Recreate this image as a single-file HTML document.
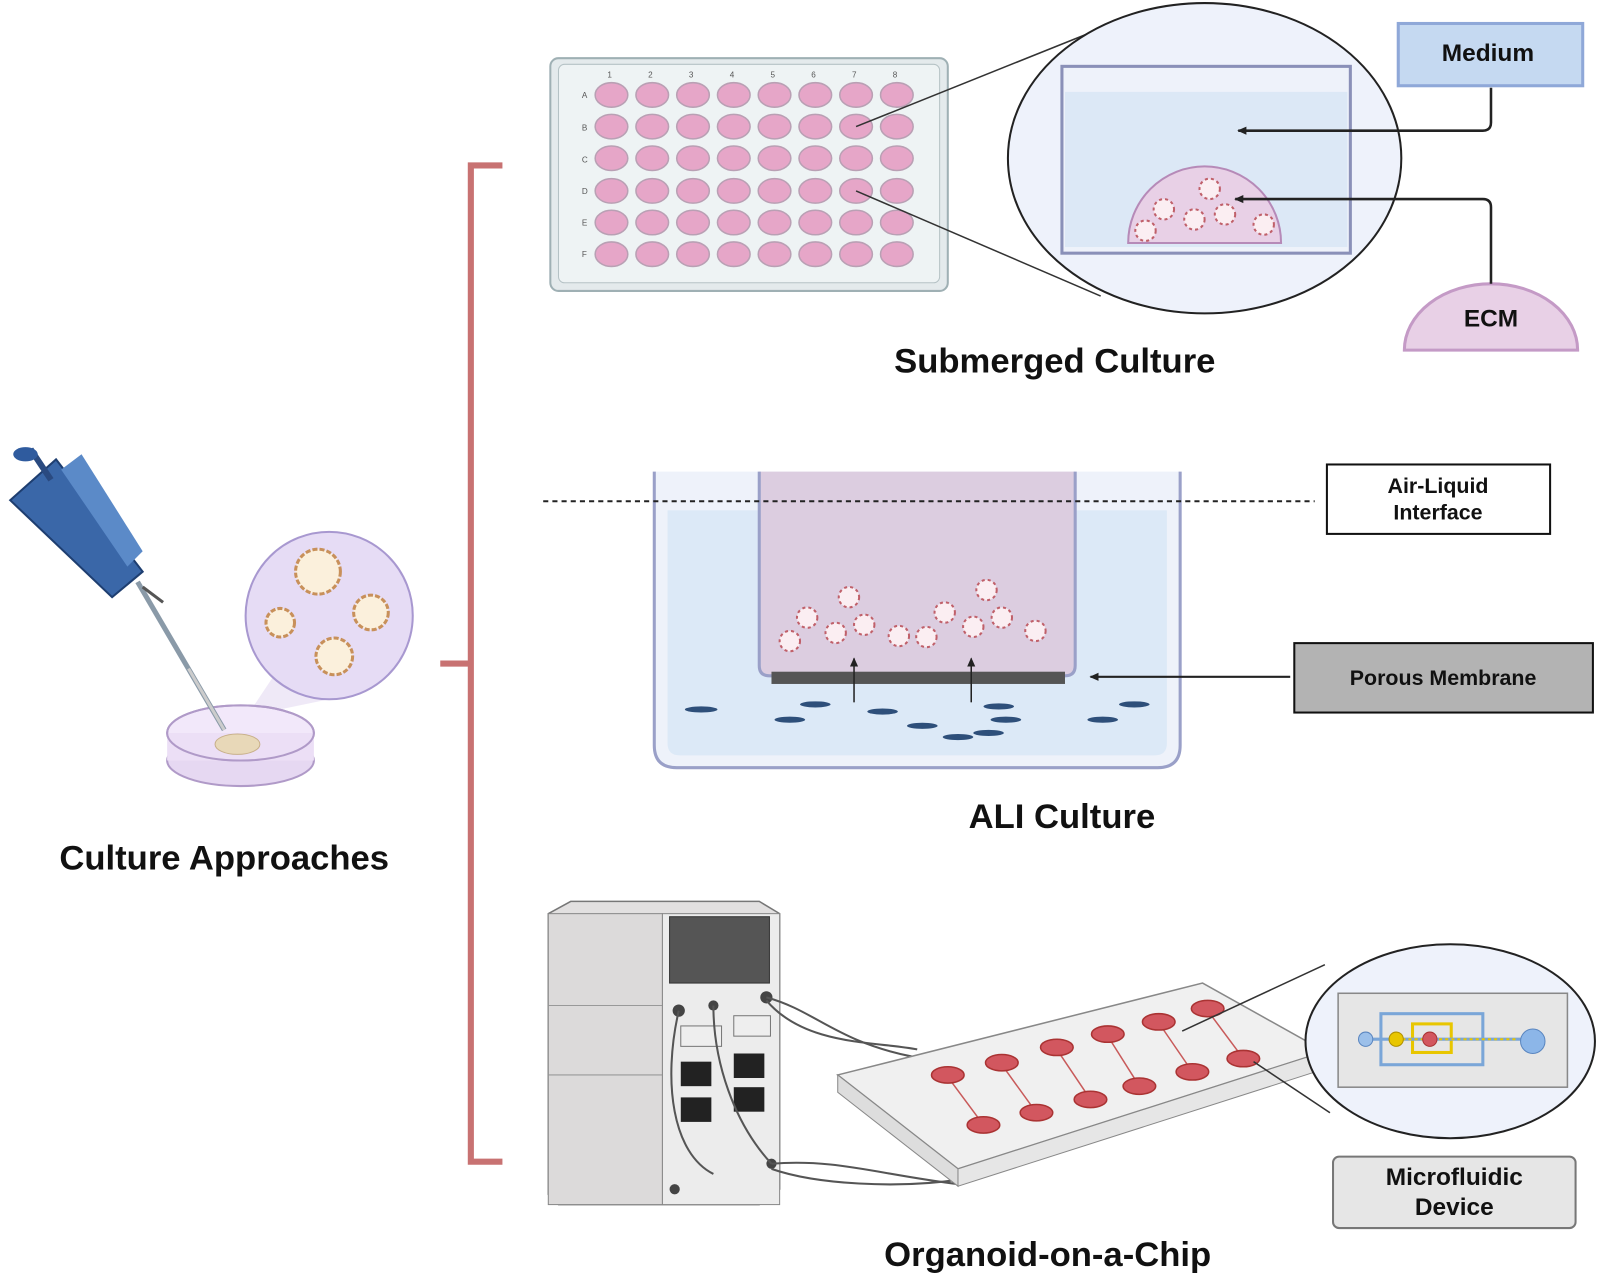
<!DOCTYPE html>
<html><head><meta charset="utf-8"><style>
html,body{margin:0;padding:0;background:#fff;}
svg{display:block;}
text{font-family:"Liberation Sans",Arial,sans-serif;}
</style></head><body>
<svg width="1598" height="1274" viewBox="0 0 1568 1248" preserveAspectRatio="none" xmlns="http://www.w3.org/2000/svg">
<defs>
<marker id="ah" markerWidth="10" markerHeight="10" refX="8" refY="5" orient="auto" markerUnits="userSpaceOnUse"><path d="M0,1 L9,5 L0,9 z" fill="#222"/></marker>
<g id="org"><circle r="10" fill="#fbeef2" stroke="#c0606a" stroke-width="2" stroke-dasharray="3 3"/></g>
</defs>
<rect width="1568" height="1248" fill="#fff"/>

<!-- bracket -->
<path d="M493,162 H462 V1138 H493 M462,650 H432" fill="none" stroke="#c87272" stroke-width="6"/>

<!-- well plate -->
<rect x="540" y="57" width="390" height="228" rx="8" fill="#e4eaec" stroke="#9fb0b4" stroke-width="2"/>
<rect x="548" y="63" width="374" height="214" rx="6" fill="#eef3f4" stroke="#b5c2c5" stroke-width="1"/>
<g fill="#555" font-size="8">
<text x="596" y="76">1</text><text x="636" y="76">2</text><text x="676" y="76">3</text><text x="716" y="76">4</text><text x="756" y="76">5</text><text x="796" y="76">6</text><text x="836" y="76">7</text><text x="876" y="76">8</text>
<text x="571" y="96">A</text><text x="571" y="128">B</text><text x="571" y="159">C</text><text x="571" y="190">D</text><text x="571" y="221">E</text><text x="571" y="252">F</text>
</g>
<g fill="#e6a6c8" stroke="#b9a0b4" stroke-width="1.5">
<g id="row"><ellipse cx="600" cy="93" rx="16" ry="12"/><ellipse cx="640" cy="93" rx="16" ry="12"/><ellipse cx="680" cy="93" rx="16" ry="12"/><ellipse cx="720" cy="93" rx="16" ry="12"/><ellipse cx="760" cy="93" rx="16" ry="12"/><ellipse cx="800" cy="93" rx="16" ry="12"/><ellipse cx="840" cy="93" rx="16" ry="12"/><ellipse cx="880" cy="93" rx="16" ry="12"/></g>
<use href="#row" y="31"/><use href="#row" y="62"/><use href="#row" y="94"/><use href="#row" y="125"/><use href="#row" y="156"/>
</g>
<line x1="840" y1="124" x2="1075" y2="30" stroke="#333" stroke-width="1.5"/>
<line x1="840" y1="187" x2="1080" y2="290" stroke="#333" stroke-width="1.5"/>
<ellipse cx="1182" cy="155" rx="193" ry="152" fill="#eef2fb" stroke="#222" stroke-width="2"/>
<rect x="1042" y="65" width="283" height="183" fill="#eef2fa" stroke="#8a90b8" stroke-width="3"/>
<rect x="1045" y="90" width="277" height="152" fill="#dce8f6"/>
<path d="M1107,238 A75,75 0 0 1 1257,238 Z" fill="#e8d0e6" stroke="#b68ab8" stroke-width="2"/>
<use href="#org" x="1142" y="205"/><use href="#org" x="1172" y="215"/><use href="#org" x="1202" y="210"/><use href="#org" x="1187" y="185"/><use href="#org" x="1240" y="220"/><use href="#org" x="1124" y="226"/>
<rect x="1372" y="23" width="181" height="61" fill="#c5d9f1" stroke="#8fa8d8" stroke-width="3"/>
<text x="1460" y="60" font-size="24" font-weight="bold" text-anchor="middle" fill="#111">Medium</text>
<path d="M1463,86 V120 Q1463,128 1455,128 H1215" fill="none" stroke="#222" stroke-width="2.5" marker-end="url(#ah)"/>
<path d="M1378,343 A85,65 0 0 1 1548,343 Z" fill="#e8d0e6" stroke="#c49ac6" stroke-width="3"/>
<text x="1463" y="320" font-size="24" font-weight="bold" text-anchor="middle" fill="#111">ECM</text>
<path d="M1463,278 V203 Q1463,195 1455,195 H1212" fill="none" stroke="#222" stroke-width="2.5" marker-end="url(#ah)"/>
<text x="1035" y="365" font-size="34" font-weight="bold" text-anchor="middle" fill="#111">Submerged Culture</text>

<!-- ALI -->
<path d="M642,462 V730 Q642,752 664,752 H1136 Q1158,752 1158,730 V462" fill="#eef2fa" stroke="#9aa0c8" stroke-width="3"/>
<path d="M655,500 H1145 V728 Q1145,740 1133,740 H667 Q655,740 655,728 Z" fill="#dce9f7"/>
<path d="M745,462 V652 Q745,662 755,662 H1045 Q1055,662 1055,652 V462" fill="#dccde0" stroke="#9aa0c8" stroke-width="3"/>
<rect x="757" y="658" width="288" height="12" fill="#555"/>
<line x1="533" y1="491" x2="1290" y2="491" stroke="#222" stroke-width="2" stroke-dasharray="5 4"/>
<g fill="#2e4f7a">
<ellipse cx="688" cy="695" rx="16" ry="3"/><ellipse cx="800" cy="690" rx="15" ry="3"/><ellipse cx="775" cy="705" rx="15" ry="3"/><ellipse cx="866" cy="697" rx="15" ry="3"/><ellipse cx="905" cy="711" rx="15" ry="3"/><ellipse cx="940" cy="722" rx="15" ry="3"/><ellipse cx="980" cy="692" rx="15" ry="3"/><ellipse cx="987" cy="705" rx="15" ry="3"/><ellipse cx="970" cy="718" rx="15" ry="3"/><ellipse cx="1082" cy="705" rx="15" ry="3"/><ellipse cx="1113" cy="690" rx="15" ry="3"/>
</g>
<use href="#org" x="792" y="605"/><use href="#org" x="820" y="620"/><use href="#org" x="848" y="612"/><use href="#org" x="833" y="585"/><use href="#org" x="882" y="623"/><use href="#org" x="927" y="600"/><use href="#org" x="955" y="614"/><use href="#org" x="968" y="578"/><use href="#org" x="983" y="605"/><use href="#org" x="1016" y="618"/><use href="#org" x="775" y="628"/><use href="#org" x="909" y="624"/>
<line x1="838" y1="688" x2="838" y2="645" stroke="#222" stroke-width="1.5" marker-end="url(#ah)"/>
<line x1="953" y1="688" x2="953" y2="645" stroke="#222" stroke-width="1.5" marker-end="url(#ah)"/>
<rect x="1302" y="455" width="219" height="68" fill="#fff" stroke="#111" stroke-width="2"/>
<text x="1411" y="483" font-size="21" font-weight="bold" text-anchor="middle" fill="#111">Air-Liquid</text>
<text x="1411" y="509" font-size="21" font-weight="bold" text-anchor="middle" fill="#111">Interface</text>
<rect x="1270" y="630" width="293" height="68" fill="#b3b3b3" stroke="#111" stroke-width="2"/>
<text x="1416" y="671" font-size="21" font-weight="bold" text-anchor="middle" fill="#111">Porous Membrane</text>
<line x1="1266" y1="663" x2="1070" y2="663" stroke="#222" stroke-width="2" marker-end="url(#ah)"/>
<text x="1042" y="811" font-size="34" font-weight="bold" text-anchor="middle" fill="#111">ALI Culture</text>

<!-- chip machine -->
<path d="M538,895 L560,883 H745 L765,895 V1165 L745,1180 H548 L538,1170 Z" fill="#e2e0e0" stroke="#777" stroke-width="1.5"/>
<rect x="538" y="895" width="112" height="285" fill="#dcdada" stroke="#888"/>
<line x1="538" y1="985" x2="650" y2="985" stroke="#999"/><line x1="538" y1="1053" x2="650" y2="1053" stroke="#999"/>
<rect x="650" y="895" width="115" height="285" fill="#ececec" stroke="#888"/>
<rect x="657" y="898" width="98" height="65" fill="#555" stroke="#333"/>
<rect x="668" y="1005" width="40" height="20" fill="#eee" stroke="#777"/><rect x="720" y="995" width="36" height="20" fill="#eee" stroke="#777"/>
<rect x="668" y="1040" width="30" height="24" fill="#222"/><rect x="720" y="1032" width="30" height="24" fill="#222"/>
<rect x="668" y="1075" width="30" height="24" fill="#222"/><rect x="720" y="1065" width="30" height="24" fill="#222"/>
<circle cx="666" cy="990" r="6" fill="#444"/><circle cx="752" cy="977" r="6" fill="#444"/><circle cx="700" cy="985" r="5" fill="#444"/>
<circle cx="662" cy="1165" r="5" fill="#444"/><circle cx="757" cy="1140" r="5" fill="#444"/>
<g fill="none" stroke="#555" stroke-width="2">
<path d="M752,977 C800,990 820,1020 895,1035"/><path d="M752,980 C790,1025 860,1020 900,1028"/>
<path d="M757,1140 C820,1135 860,1150 940,1160"/><path d="M757,1145 C800,1160 880,1165 945,1155"/>
<path d="M666,990 C650,1060 660,1130 700,1150"/><path d="M700,985 C700,1040 720,1100 757,1140"/>
</g>
<!-- chip -->
<polygon points="822,1053 1180,963 1300,1030 940,1145" fill="#f0f0f0" stroke="#888" stroke-width="1.5"/>
<polygon points="822,1053 940,1145 940,1162 822,1070" fill="#ddd" stroke="#888"/>
<polygon points="940,1145 1300,1030 1300,1047 940,1162" fill="#e6e6e6" stroke="#888"/>
<g stroke="#c85a5a" stroke-width="1.5" fill="none">
<path d="M930,1055 L965,1102"/><path d="M983,1043 L1017,1090"/><path d="M1037,1028 L1070,1077"/><path d="M1087,1015 L1118,1064"/><path d="M1137,1002 L1170,1050"/><path d="M1185,990 L1220,1037"/>
</g>
<g fill="#d2575f" stroke="#a33" stroke-width="1.5">
<ellipse cx="930" cy="1053" rx="16" ry="8"/><ellipse cx="983" cy="1041" rx="16" ry="8"/><ellipse cx="1037" cy="1026" rx="16" ry="8"/><ellipse cx="1087" cy="1013" rx="16" ry="8"/><ellipse cx="1137" cy="1001" rx="16" ry="8"/><ellipse cx="1185" cy="988" rx="16" ry="8"/>
<ellipse cx="965" cy="1102" rx="16" ry="8"/><ellipse cx="1017" cy="1090" rx="16" ry="8"/><ellipse cx="1070" cy="1077" rx="16" ry="8"/><ellipse cx="1118" cy="1064" rx="16" ry="8"/><ellipse cx="1170" cy="1050" rx="16" ry="8"/><ellipse cx="1220" cy="1037" rx="16" ry="8"/>
</g>
<line x1="1160" y1="1010" x2="1300" y2="945" stroke="#333" stroke-width="1.5"/>
<line x1="1230" y1="1040" x2="1305" y2="1090" stroke="#333" stroke-width="1.5"/>
<ellipse cx="1423" cy="1020" rx="142" ry="95" fill="#eef2fb" stroke="#222" stroke-width="2"/>
<rect x="1313" y="973" width="225" height="92" fill="#e6e6e6" stroke="#888" stroke-width="1.5"/>
<rect x="1355" y="993" width="100" height="50" fill="none" stroke="#7aa6d8" stroke-width="3"/>
<rect x="1386" y="1003" width="38" height="28" fill="none" stroke="#e8c600" stroke-width="3"/>
<line x1="1340" y1="1018" x2="1505" y2="1018" stroke="#7aa6d8" stroke-width="3"/>
<line x1="1370" y1="1018" x2="1490" y2="1018" stroke="#e8c600" stroke-width="2" stroke-dasharray="3 3"/>
<circle cx="1340" cy="1018" r="7" fill="#9cc0ea" stroke="#5a86c0"/><circle cx="1370" cy="1018" r="7" fill="#e8c600" stroke="#b09000"/>
<circle cx="1403" cy="1018" r="7" fill="#d2575f" stroke="#a33"/><circle cx="1504" cy="1020" r="12" fill="#8cb6e8" stroke="#5a86c0"/>
<rect x="1308" y="1133" width="238" height="70" rx="6" fill="#e6e6e6" stroke="#777" stroke-width="2"/>
<text x="1427" y="1161" font-size="24" font-weight="bold" text-anchor="middle" fill="#111">Microfluidic</text>
<text x="1427" y="1190" font-size="24" font-weight="bold" text-anchor="middle" fill="#111">Device</text>
<text x="1028" y="1240" font-size="34" font-weight="bold" text-anchor="middle" fill="#111">Organoid-on-a-Chip</text>

<!-- left: pipette, dish -->
<polygon points="230,720 250,700 323,685 310,600" fill="#ebe4f5" opacity="0.8"/>
<ellipse cx="236" cy="745" rx="72" ry="25" fill="#e6d8f2" stroke="#b09ac8" stroke-width="2"/>
<ellipse cx="236" cy="718" rx="72" ry="27" fill="#f2e8fa" stroke="#b09ac8" stroke-width="2"/>
<rect x="164" y="718" width="144" height="27" fill="#ecdff6"/>
<ellipse cx="236" cy="718" rx="72" ry="27" fill="none" stroke="#b09ac8" stroke-width="2"/>
<ellipse cx="233" cy="729" rx="22" ry="10" fill="#e8d8b8" stroke="#c8b08a"/>
<line x1="135" y1="570" x2="220" y2="715" stroke="#8a9aa8" stroke-width="5"/>
<line x1="185" y1="655" x2="220" y2="715" stroke="#ccc" stroke-width="3"/>
<polygon points="10,490 55,450 140,560 110,585" fill="#3a67a8" stroke="#1e3e70" stroke-width="2"/>
<polygon points="60,460 80,445 140,540 125,555" fill="#5b8ac8"/>
<line x1="30" y1="440" x2="50" y2="470" stroke="#2a4a80" stroke-width="6"/>
<ellipse cx="25" cy="445" rx="12" ry="7" fill="#2f5b9e"/>
<line x1="140" y1="575" x2="160" y2="590" stroke="#555" stroke-width="3"/>
<circle cx="323" cy="603" r="82" fill="#e6dcf5" stroke="#a898d0" stroke-width="2"/>
<g fill="#fbf0dc" stroke="#c8905a" stroke-width="3" stroke-dasharray="5 2">
<circle cx="312" cy="560" r="22"/><circle cx="275" cy="610" r="14"/><circle cx="364" cy="600" r="17"/><circle cx="328" cy="643" r="18"/>
</g>
<text x="220" y="852" font-size="34" font-weight="bold" text-anchor="middle" fill="#111">Culture Approaches</text>
</svg>
</body></html>
